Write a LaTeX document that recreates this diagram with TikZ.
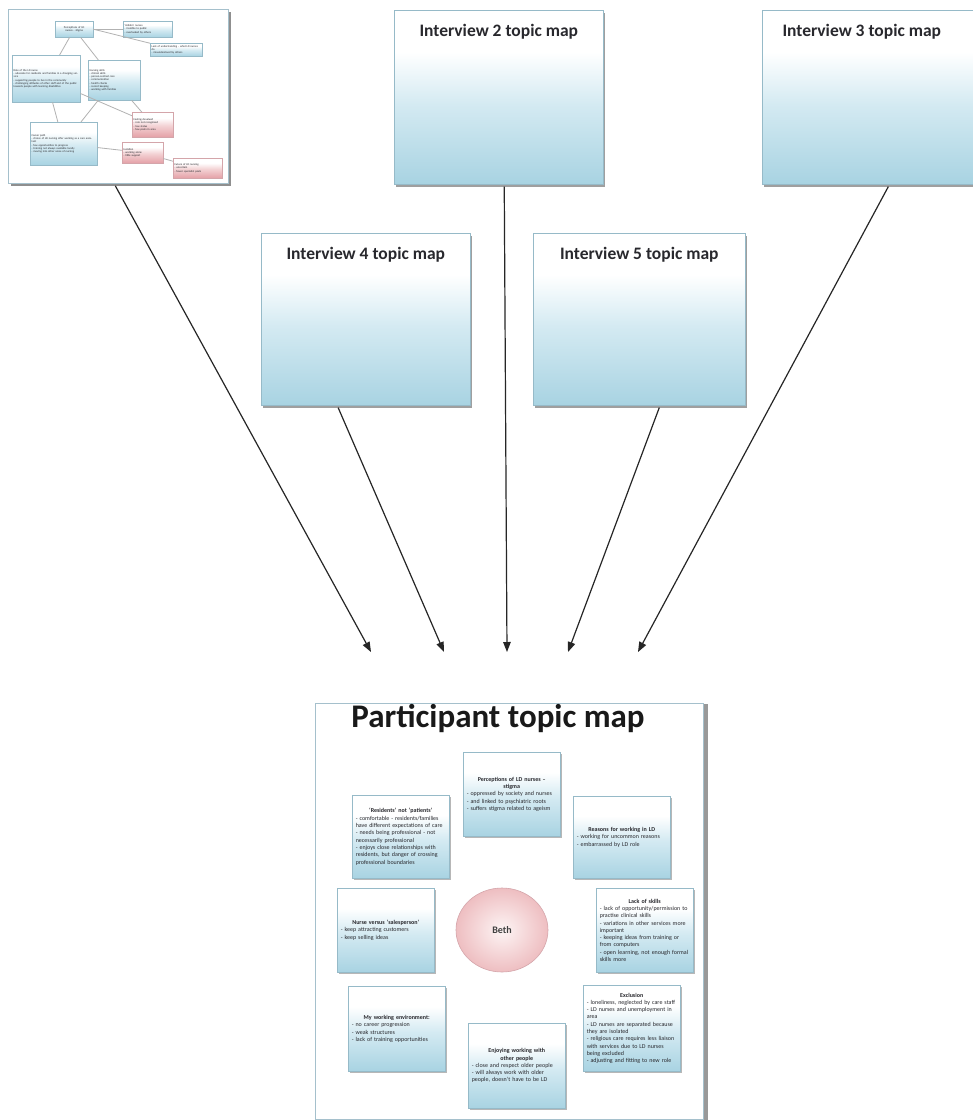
\documentclass[tikz,border=0pt]{standalone}
\usepackage{fontspec}
\setmainfont{Carlito}
\usetikzlibrary{arrows.meta,shadows,calc,shapes.geometric}

\definecolor{boxbot}{RGB}{168,211,226}
\definecolor{boxmid}{RGB}{212,234,242}
\definecolor{boxedge}{RGB}{150,186,200}
\definecolor{pinkbot}{RGB}{228,160,166}
\definecolor{pinkmid}{RGB}{243,210,212}
\definecolor{pinkedge}{RGB}{212,165,170}
\definecolor{pinkin}{RGB}{253,244,244}
\definecolor{pinkout}{RGB}{238,190,193}
\definecolor{framebd}{RGB}{165,192,204}
\definecolor{inktext}{RGB}{40,40,45}

\pgfdeclareverticalshading{topicshade}{100bp}{color(0bp)=(boxbot); color(25bp)=(boxbot); color(48bp)=(boxmid); color(63bp)=(white); color(100bp)=(white)}
\pgfdeclareverticalshading{pinkshade}{100bp}{color(0bp)=(pinkbot); color(25bp)=(pinkbot); color(48bp)=(pinkmid); color(63bp)=(white); color(100bp)=(white)}

\newcommand\pmapfont{\fontsize{6}{7.3}\selectfont\hyphenpenalty=10000\exhyphenpenalty=10000}
\newcommand\thumbfont{\fontsize{2.8}{3.3}\selectfont}
\newcommand\topicbody[2]{{\centering\bfseries #1\par}\raggedright #2}

\tikzset{
  softshadow/.style={drop shadow={shadow xshift=2pt,shadow yshift=-3pt,fill=black!50,opacity=0.75}},
  ibox/.style={draw=boxedge,line width=0.6pt,shading=topicshade,softshadow,
    anchor=north west,inner sep=0pt,minimum height=174pt},
  ititle/.style={anchor=north,yshift=-11pt,font=\bfseries\fontsize{17.5}{19}\selectfont,text=inktext},
  pbox/.style={draw=boxedge,line width=0.5pt,shading=topicshade,
    drop shadow={shadow xshift=1.5pt,shadow yshift=-1.5pt,fill=black!40,opacity=0.7},
    anchor=north west,inner xsep=3.5pt,inner ysep=2pt,text width=90pt,
    font=\pmapfont,text=inktext,align=left},
  tbox/.style={draw=boxedge,line width=0.4pt,shading=topicshade,
    anchor=north west,inner xsep=1.5pt,inner ysep=1pt,font=\thumbfont,text=inktext,align=left},
  tpink/.style={tbox,draw=pinkedge,shading=pinkshade},
  tlink/.style={draw=black!30,line width=0.8pt},
  conn/.style={-{Triangle[length=10pt,width=7.5pt]},line width=1.2pt,draw=black!85},
}

\begin{document}
\begin{tikzpicture}[x=1pt,y=-1pt]
\useasboundingbox (0,0) rectangle (973,1120);
\fill[white] (0,0) rectangle (973,1120);

% ---- interview 1: thumbnail of a finished topic map ----
\node[draw=framebd,fill=white,line width=0.8pt,anchor=north west,inner sep=0pt,
  minimum width=220pt,minimum height=174pt,
  drop shadow={shadow xshift=3pt,shadow yshift=-3pt,fill=black!55,opacity=0.8}] (i1) at (8,9) {};
\node[tbox,text width=35pt,minimum height=16pt,align=center] (ta) at (55,21)
  {Perceptions of LD nurses - stigma};
\node[tbox,text width=46pt,minimum height=16pt] (tb) at (123,21)
  {`Hidden' nurses\\- invisible to public\\- overlooked by others};
\node[tbox,text width=49pt,minimum height=13pt] (tc) at (150,43)
  {Lack of understanding - what LD nurses do\\- misunderstood by others};
\node[tbox,text width=65pt,minimum height=47pt] (td) at (12,55)
  {Role of the LD nurse\\- advocate for residents and families in a changing service\\- supporting people to live in the community\\- challenging attitudes of other staff and of the public towards people with learning disabilities};
\node[tbox,text width=49pt,minimum height=40pt] (te) at (88,60)
  {Nursing skills\\- clinical skills\\- person-centred care\\- communication\\- health checks\\- record keeping\\- working with families};
\node[tpink,text width=38pt,minimum height=25pt] (tf) at (132,112)
  {Feeling devalued\\- role not recognised\\- low status\\- few posts in area};
\node[tbox,text width=64pt,minimum height=43pt] (tg) at (30,122)
  {Career path\\- choice of LD nursing after working as a care assistant\\- few opportunities to progress\\- training not always available locally\\- moving into other areas of nursing};
\node[tpink,text width=38pt,minimum height=21pt] (th) at (122,142)
  {Isolation\\- working alone\\- little support};
\node[tpink,text width=46pt,minimum height=20pt] (ti) at (173,158)
  {Future of LD nursing\\- uncertain\\- fewer specialist posts};
\draw[tlink] (ta) -- (tb);
\draw[tlink] (ta.east) -- (tc);
\draw[tlink] (ta) -- (td);
\draw[tlink] (ta) -- (te);
\draw[tlink] (td) -- (tg);
\draw[tlink] (te) -- (tg);
\draw[tlink] (td) -- (tf);
\draw[tlink] (te) -- (tf);
\draw[tlink] (tg) -- (th);
\draw[tlink] (th) -- (ti);

% ---- interviews 2 to 5 ----
\node[ibox,minimum width=209pt,label={[ititle]north:Interview 2 topic map}] (i2) at (394,10) {};
\node[ibox,minimum width=215pt,label={[ititle,xshift=-8pt]north:Interview 3 topic map}] (i3) at (762,10) {};
\node[ibox,minimum width=209pt,minimum height=172pt,label={[ititle]north:Interview 4 topic map}] (i4) at (261,233) {};
\node[ibox,minimum width=212pt,minimum height=172pt,label={[ititle]north:Interview 5 topic map}] (i5) at (533,233) {};

% ---- participant topic map ----
\node[draw=framebd,fill=white,line width=0.8pt,anchor=north west,inner sep=0pt,
  minimum width=388pt,minimum height=416pt,
  drop shadow={shadow xshift=5pt,shadow yshift=-1pt,fill=black!50,opacity=0.8}] (pm) at (315,703) {};
\node[anchor=base,font=\bfseries\fontsize{33}{35}\selectfont,text=black!90] (ptitle) at (498,727) {Participant topic map};

\node[ellipse,draw=pinkedge,line width=0.6pt,inner color=pinkin,outer color=pinkout,
  minimum width=92pt,minimum height=84pt,font=\bfseries\fontsize{10}{11}\selectfont,text=black!75] (beth) at (502,930) {Beth};

\node[pbox,minimum height=84pt] (perc) at (463,752)
  {\topicbody{Perceptions of LD nurses --\\stigma}{- oppressed by society and nurses\par- and linked to psychiatric roots\par- suffers stigma related to ageism}};
\node[pbox,minimum height=83pt] (resid) at (352,795)
  {\topicbody{`Residents' not `patients'}{- comfortable - residents/families have different expectations of care\par- needs being professional - not necessarily professional\par- enjoys close relationships with residents, but danger of crossing professional boundaries}};
\node[pbox,minimum height=82pt] (reas) at (573,796)
  {\topicbody{Reasons for working in LD}{- working for uncommon reasons\par- embarrassed by LD role}};
\node[pbox,minimum height=84pt] (nurse) at (337,888)
  {\topicbody{Nurse versus `salesperson'}{- keep attracting customers\par- keep selling ideas}};
\node[pbox,minimum height=84pt] (lack) at (596,888)
  {\topicbody{Lack of skills}{- lack of opportunity/permission to practise clinical skills\par- variations in other services more important\par- keeping ideas from training or from computers\par- open learning, not enough formal skills more}};
\node[pbox,minimum height=85pt] (myenv) at (348,986)
  {\topicbody{My working environment:}{- no career progression\par- weak structures\par- lack of training opportunities}};
\node[pbox,minimum height=86pt] (excl) at (583,985)
  {\topicbody{Exclusion}{- loneliness, neglected by care staff\par- LD nurses and unemployment in area\par- LD nurses are separated because they are isolated\par- religious care requires less liaison with services due to LD nurses being excluded\par- adjusting and fitting to new role}};
\node[pbox,minimum height=85pt] (enjoy) at (468,1023)
  {\topicbody{Enjoying working with\\other people}{- close and respect older people\par- will always work with older people, doesn't have to be LD}};

% ---- every interview map feeds the participant map ----
\coordinate (e1) at (371,652);
\coordinate (e2) at (444,652);
\coordinate (e3) at (507,652);
\coordinate (e4) at (568,652);
\coordinate (e5) at (638,652);
\draw[conn] ($(i1.south west)!0.486!(i1.south east)+(0,2)$) -- (e1);
\draw[conn] ($(i4.south west)!0.368!(i4.south east)+(0,2)$) -- (e2);
\draw[conn] ($(i2.south west)!0.526!(i2.south east)+(0,2)$) -- (e3);
\draw[conn] ($(i5.south west)!0.594!(i5.south east)+(0,2)$) -- (e4);
\draw[conn] ($(i3.south west)!0.586!(i3.south east)+(0,2)$) -- (e5);
\end{tikzpicture}
\end{document}
